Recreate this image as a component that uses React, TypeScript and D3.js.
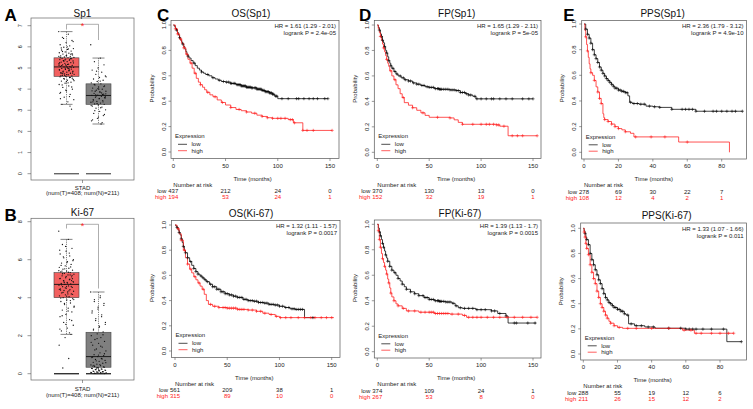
import React from "react";
import * as d3 from "d3";

type Step = [number, number];

// ---------- Box plot data (GEPIA, STAD) ----------
const boxGenes = ["Sp1", "Ki-67"];
const boxCategory = "STAD";
const boxCaption = "(num(T)=408; num(N)=211)";
const sp1YTicks = [0, 1, 2, 3, 4, 5, 6, 7];
const ki67YTicks = [0, 2, 4, 6, 8];
// [lowWhisker, q1, median, q3, highWhisker]
const sp1TumorStats = [3.28, 4.6, 5.05, 5.48, 6.72];
const sp1NormalStats = [2.35, 3.28, 3.7, 4.25, 5.47];
const ki67TumorStats = [2.07, 4.0, 4.7, 5.32, 7.07];
const ki67NormalStats = [0.0, 0.34, 0.9, 2.18, 4.3];
const sp1Tumor = [6.72,6.6,6.45,6.3,6.2,6.1,6.05,5.98,5.92,5.88,5.85,5.8,5.76,5.72,5.7,5.66,5.62,5.6,5.57,5.55,5.52,5.5,5.48,5.46,5.44,5.42,5.4,5.37,5.35,5.33,5.3,5.28,5.25,5.22,5.2,5.18,5.15,5.12,5.1,5.08,5.06,5.05,5.03,5.0,4.98,4.95,4.93,4.9,4.88,4.85,4.82,4.8,4.78,4.75,4.72,4.7,4.68,4.65,4.62,4.6,4.58,4.55,4.5,4.46,4.42,4.38,4.33,4.28,4.22,4.15,4.08,4.0,3.92,3.85,3.75,3.62,3.5,3.4,3.28,3.05,5.15,5.25,4.95,5.35,4.85,5.05,4.75,5.45,4.65,5.55,
  5.9,5.78,5.68,5.58,5.49,5.41,5.32,5.24,5.17,5.11,5.04,4.99,4.92,4.87,4.81,4.76,4.69,4.63,4.56,4.48,4.4,4.3,4.2,4.1,3.95,3.8,3.65,6.4,6.25,6.0,5.95,5.65,5.38,5.13,4.97,4.73,4.52,4.35,3.55,3.2];
const sp1Normal = [6.1,5.47,5.3,5.15,5.0,4.9,4.8,4.7,4.62,4.55,4.48,4.42,4.36,4.3,4.25,4.2,4.15,4.1,4.05,4.0,3.95,3.9,3.85,3.8,3.76,3.72,3.7,3.66,3.62,3.58,3.54,3.5,3.46,3.42,3.38,3.34,3.3,3.28,3.25,3.2,3.15,3.1,3.02,2.95,2.85,2.75,2.62,2.5,2.35,3.9,3.6,4.0,3.4,3.75,
  4.85,4.58,4.38,4.22,4.12,4.02,3.92,3.82,3.73,3.64,3.56,3.48,3.4,3.32,3.22,3.12,2.98,2.8,2.68,2.55,2.42,3.68,3.78,3.88];
const ki67Tumor = [7.5,7.07,6.8,6.6,6.45,6.3,6.2,6.1,6.0,5.9,5.82,5.75,5.68,5.6,5.55,5.5,5.45,5.4,5.36,5.32,5.28,5.24,5.2,5.15,5.1,5.05,5.0,4.95,4.9,4.85,4.8,4.75,4.72,4.7,4.66,4.62,4.58,4.54,4.5,4.46,4.42,4.38,4.34,4.3,4.25,4.2,4.15,4.1,4.05,4.0,3.95,3.88,3.8,3.72,3.64,3.55,3.45,3.35,3.25,3.12,3.0,2.85,2.7,2.55,2.4,2.25,2.07,1.9,1.5,0.8,0.3,5.0,4.6,4.4,5.2,4.8,3.9,4.2,5.4,4.9,
  6.7,6.5,6.35,6.15,5.95,5.85,5.7,5.62,5.52,5.42,5.34,5.26,5.18,5.12,5.02,4.97,4.88,4.82,4.77,4.68,4.6,4.52,4.44,4.36,4.28,4.18,4.08,3.98,3.85,3.7,3.5,3.3,3.05,2.8,2.6,2.35,2.15];
const ki67Normal = [4.3,4.1,3.9,3.7,3.5,3.3,3.1,2.9,2.7,2.5,2.35,2.2,2.1,2.0,1.9,1.8,1.7,1.6,1.5,1.4,1.3,1.2,1.1,1.0,0.95,0.9,0.85,0.8,0.75,0.7,0.65,0.6,0.55,0.5,0.46,0.42,0.38,0.34,0.3,0.27,0.24,0.21,0.18,0.15,0.12,0.1,0.08,0.06,0.04,0.02,0.01,0.2,0.4,0.1,0.3,0.05,
  4.0,3.8,3.6,3.4,3.2,3.0,2.8,2.6,2.45,2.3,2.05,1.85,1.65,1.45,1.25,1.05,0.98,0.88,0.78,0.68,0.58,0.48,0.44,0.36,0.32,0.28,0.25,0.22,0.19,0.16,0.14,0.11,0.09,0.07,0.05,0.03];

// ---------- Kaplan-Meier data ----------
const osSp1Low: Step[] = [[0,1],[1,0.99],[2,0.975],[3,0.96],[4,0.94],[5,0.92],[6,0.9],[7,0.88],[8,0.865],[9,0.85],[10,0.83],[11,0.81],[12,0.79],[13,0.77],[14,0.755],[15,0.74],[17,0.72],[19,0.7],[21,0.68],[23,0.66],[25,0.645],[27,0.63],[29,0.62],[31,0.61],[34,0.6],[37,0.585],[40,0.575],[43,0.565],[46,0.555],[50,0.55],[55,0.54],[60,0.53],[65,0.52],[70,0.51],[75,0.505],[80,0.495],[85,0.485],[88,0.475],[92,0.465],[95,0.455],[97,0.44],[100,0.42],[148,0.42]];
const osSp1High: Step[] = [[0,1],[2,0.97],[4,0.93],[6,0.89],[8,0.855],[10,0.82],[12,0.77],[14,0.73],[16,0.7],[18,0.66],[20,0.62],[22,0.58],[24,0.55],[26,0.53],[28,0.51],[30,0.49],[32,0.47],[35,0.45],[38,0.435],[42,0.41],[46,0.39],[50,0.37],[55,0.35],[60,0.335],[65,0.325],[70,0.315],[75,0.305],[80,0.29],[85,0.28],[90,0.27],[95,0.265],[110,0.255],[115,0.23],[124,0.17],[152,0.17]];
const osKi67Low: Step[] = [[0,1],[1,0.99],[2,0.98],[3,0.96],[4,0.94],[5,0.92],[6,0.89],[7,0.86],[8,0.83],[9,0.8],[10,0.78],[12,0.74],[14,0.71],[16,0.68],[18,0.655],[20,0.63],[22,0.61],[24,0.595],[26,0.58],[28,0.565],[30,0.55],[33,0.53],[36,0.51],[40,0.49],[44,0.47],[48,0.455],[52,0.445],[56,0.435],[60,0.425],[65,0.41],[70,0.4],[75,0.395],[80,0.385],[85,0.38],[90,0.37],[95,0.365],[100,0.355],[105,0.345],[110,0.335],[115,0.33],[124,0.265],[134,0.265]];
const osKi67High: Step[] = [[0,1],[2,0.97],[4,0.93],[6,0.88],[8,0.8],[10,0.74],[12,0.69],[14,0.65],[16,0.62],[18,0.59],[20,0.565],[22,0.54],[24,0.515],[26,0.49],[28,0.45],[30,0.4],[32,0.37],[36,0.355],[42,0.345],[50,0.34],[60,0.33],[70,0.325],[78,0.315],[84,0.3],[90,0.29],[96,0.275],[100,0.265],[152,0.265]];
const fpSp1Low: Step[] = [[0,1],[1,0.98],[2,0.96],[3,0.93],[4,0.91],[5,0.88],[6,0.86],[7,0.83],[8,0.8],[9,0.78],[10,0.75],[11,0.72],[12,0.7],[13,0.68],[14,0.66],[16,0.635],[18,0.615],[20,0.6],[23,0.585],[26,0.57],[30,0.56],[34,0.545],[38,0.535],[42,0.525],[46,0.515],[50,0.51],[55,0.5],[60,0.495],[70,0.49],[76,0.485],[80,0.47],[85,0.46],[88,0.45],[92,0.44],[95,0.42],[150,0.42]];
const fpSp1High: Step[] = [[0,1],[1,0.97],[2,0.94],[3,0.91],[4,0.88],[5,0.85],[6,0.82],[7,0.79],[8,0.76],[9,0.73],[10,0.7],[11,0.675],[12,0.64],[14,0.6],[16,0.57],[18,0.53],[20,0.5],[22,0.46],[24,0.43],[26,0.39],[30,0.37],[34,0.35],[38,0.33],[42,0.31],[46,0.29],[50,0.275],[70,0.27],[74,0.255],[78,0.235],[82,0.22],[115,0.215],[118,0.205],[126,0.13],[154,0.13]];
const fpKi67Low: Step[] = [[0,1],[1,0.97],[2,0.94],[3,0.91],[4,0.88],[5,0.85],[6,0.82],[7,0.79],[8,0.76],[9,0.735],[10,0.71],[12,0.67],[14,0.64],[16,0.62],[18,0.6],[20,0.575],[22,0.555],[24,0.53],[26,0.51],[28,0.49],[32,0.47],[36,0.455],[40,0.44],[45,0.425],[50,0.41],[55,0.4],[60,0.395],[66,0.39],[72,0.38],[75,0.36],[78,0.345],[82,0.34],[95,0.33],[110,0.32],[116,0.3],[124,0.28],[126,0.225],[153,0.225]];
const fpKi67High: Step[] = [[0,1],[1,0.95],[2,0.88],[3,0.82],[4,0.77],[5,0.73],[6,0.7],[7,0.67],[8,0.64],[9,0.61],[10,0.57],[11,0.54],[12,0.5],[13,0.46],[14,0.43],[16,0.4],[18,0.375],[20,0.36],[24,0.34],[28,0.32],[40,0.31],[55,0.3],[70,0.295],[82,0.285],[86,0.27],[154,0.27]];
const ppsSp1Low: Step[] = [[0,1],[1,0.96],[2,0.92],[3,0.89],[4,0.85],[5,0.8],[6,0.76],[7,0.73],[8,0.7],[9,0.665],[10,0.64],[11,0.615],[12,0.595],[13,0.575],[14,0.56],[15,0.545],[16,0.53],[17,0.515],[18,0.5],[20,0.485],[22,0.475],[24,0.465],[25.5,0.44],[26.5,0.39],[28,0.38],[32,0.375],[36,0.36],[40,0.355],[44,0.35],[51,0.335],[65,0.32],[92,0.32]];
const ppsSp1High: Step[] = [[0,1],[0.5,0.95],[1,0.9],[1.5,0.84],[2,0.79],[2.5,0.74],[3,0.69],[3.5,0.65],[4,0.62],[5,0.6],[6,0.56],[7,0.51],[8,0.47],[9,0.42],[10,0.38],[11,0.3],[11.5,0.27],[12,0.255],[14,0.24],[16,0.22],[18,0.2],[20,0.185],[22,0.175],[24,0.16],[27,0.148],[29,0.12],[55,0.08],[84.5,0]];
const ppsKi67Low: Step[] = [[0,1],[0.5,0.98],[1,0.96],[1.5,0.93],[2,0.91],[3,0.87],[4,0.8],[5,0.75],[6,0.71],[7,0.67],[8,0.63],[9,0.59],[10,0.56],[11,0.52],[12,0.48],[13,0.45],[14,0.43],[15,0.41],[16,0.4],[17,0.385],[18,0.37],[20,0.355],[22,0.34],[24,0.32],[25,0.31],[26.5,0.24],[30,0.225],[36,0.215],[42,0.205],[60,0.198],[84,0.098],[92.5,0.098]];
const ppsKi67High: Step[] = [[0,1],[0.5,0.97],[1,0.93],[1.5,0.88],[2,0.84],[3,0.79],[4,0.71],[5,0.65],[6,0.6],[7,0.56],[8,0.5],[9,0.45],[10,0.4],[11,0.37],[12,0.34],[13,0.31],[14,0.285],[15,0.26],[16,0.245],[18,0.225],[20,0.212],[23,0.204],[58,0.19],[65,0.165],[88,0.165]];

const osSp1LowCens = [3,6,9,14,20,27,33,38,44,48,51,53,55,56,58,59,61,62,63,64,65,66,67,68,69,70,71,72,73,74,75,76,78,79,80,81,82,83,84,85,86,87,88,89,90,91,92,93,94,95,96,98,99,104,110,118,120,125,130,134,138,145,148];
const osSp1HighCens = [2,4,7,10,13,17,21,26,33,40,47,55,63,70,78,85,90,95,100,103,107,112,114,116,124,128,134,152];
const osKi67LowCens = [2,4,6,8,10,12,15,18,20,22,25,27,29,31,34,36,38,40,42,44,46,48,50,52,54,56,58,60,62,64,66,68,70,72,74,76,78,80,82,84,86,88,90,92,94,96,98,100,103,106,109,112,114,116,118,120,122,132];
const osKi67HighCens = [3,6,9,12,15,19,23,27,34,38,42,46,48,50,52,54,56,58,60,62,64,66,70,74,78,82,86,92,97,101,106,111,118,124,130,134,140,145,150];
const fpSp1LowCens = [2,4,5,7,9,11,13,15,17,19,22,25,27,30,32,35,38,40,43,45,48,50,52,54,56,58,59,60,61,62,64,66,68,70,72,74,76,78,80,82,84,86,88,90,94,96,100,105,110,112,118,124,130,140,146,150];
const fpSp1HighCens = [3,6,9,13,17,25,34,44,58,70,82,92,100,105,108,112,115,117,122,130,135,140,154];
const fpKi67LowCens = [2,3,5,6,8,10,12,14,17,20,24,28,32,36,40,44,46,48,50,52,54,56,58,59,60,61,62,64,66,68,70,73,76,80,84,88,92,96,100,104,110,113,118,124,132,134,145,152];
const fpKi67HighCens = [1,2,3,5,7,9,11,13,16,20,25,30,36,42,46,50,52,54,56,58,60,62,64,66,68,72,78,84,88,92,96,100,106,112,118,125,132,140,148,154];
const ppsSp1LowCens = [1,2,3,4,5,6,7,8,9,10,11,12,13,14,15,16,17,18,19,20,21,22,23,24,25,27,29,31,33,35,38,41,44,51,57,59,61,63,65,70,75,77,80,83,86,88,92];
const ppsSp1HighCens = [1,2,4,6,8,9,10,12,14,16,18,20,24,30,39,47,60];
const ppsKi67LowCens = [1,2,3,4,5,6,7,8,9,10,11,12,13,14,15,16,17,18,19,20,21,22,23,24,26,28,31,34,38,41,50,57,60,62,64,66,70,75,82,92.5];
const ppsKi67HighCens = [0.5,1,1.5,2,3,4,5,6,7,8,9,10,11,12,13,14,16,18,21,26,31,40,50,59,63,66,69,75,80,85,88];

const ticksLong = [0, 50, 100, 150];
const ticksShort = [0, 20, 40, 60, 80];
const probTicks = [0, 0.2, 0.4, 0.6, 0.8, 1.0];

const FONT = "'Liberation Sans', Arial, Helvetica, sans-serif";
const RED = "#ff1a1a";

function survAt(steps: Step[], t: number) {
  let s = 1;
  for (const [tt, ss] of steps) {
    if (tt <= t) s = ss;
    else break;
  }
  return s;
}

function KMPanel({ c }: { c: any }) {
  const x = d3.scaleLinear().domain([0, c.xMax]).range([c.x0, c.x1]);
  const y = d3.scaleLinear().domain([0, 1]).range([c.y0, c.y1]);
  const line = d3.line<Step>().x((d) => x(d[0])).y((d) => y(d[1])).curve(d3.curveStepAfter);
  const b = c.box;
  const fs = 6;
  const cens = (steps: Step[], times: number[], color: string, key: string) =>
    times.map((t, i) => {
      const px = x(t), py = y(survAt(steps, t));
      return (
        <g key={key + i} stroke={color} strokeWidth={0.55}>
          <line x1={px - 1.6} x2={px + 1.6} y1={py} y2={py} />
          <line x1={px} x2={px} y1={py - 1.6} y2={py + 1.6} />
        </g>
      );
    });
  return (
    <g fontFamily={FONT}>
      {c.letter && (
        <text x={c.letterX} y={c.letterY} fontSize={17} fontWeight="bold" fill="#000">{c.letter}</text>
      )}
      <text x={c.titleX} y={c.titleY} fontSize={10} textAnchor="middle" fill="#111">{c.title}</text>
      <rect x={b.l} y={b.t} width={b.r - b.l} height={b.b - b.t} fill="none" stroke="#555" strokeWidth={0.7} />
      {probTicks.map((t) => (
        <g key={"yt" + t}>
          <line x1={b.l - 2.5} x2={b.l} y1={y(t)} y2={y(t)} stroke="#555" strokeWidth={0.6} />
          <text transform={`translate(${b.l - 7.5},${y(t)}) rotate(-90)`} textAnchor="middle" dy="0.35em" fontSize={fs} fill="#222">{t.toFixed(1)}</text>
        </g>
      ))}
      <text transform={`translate(${b.l - 19.5},${(c.y0 + c.y1) / 2}) rotate(-90)`} textAnchor="middle" dy="0.35em" fontSize={fs} fill="#222">Probability</text>
      {c.xTicks.map((t: number) => (
        <g key={"xt" + t}>
          <line x1={x(t)} x2={x(t)} y1={b.b} y2={b.b + 2.5} stroke="#555" strokeWidth={0.6} />
          <text x={x(t)} y={b.b + 9.3} textAnchor="middle" fontSize={fs} fill="#222">{t}</text>
        </g>
      ))}
      <text x={(c.x0 + c.x1) / 2 + 1} y={b.b + 22} textAnchor="middle" fontSize={fs} fill="#222">Time (months)</text>
      <path d={line(c.low) || ""} fill="none" stroke="#000" strokeWidth={0.75} />
      <path d={line(c.high) || ""} fill="none" stroke={RED} strokeWidth={0.75} />
      {cens(c.low, c.lowC, "#000", "lc")}
      {cens(c.high, c.highC, RED, "hc")}
      <text x={b.r - 3} y={b.t + 7.5} textAnchor="end" fontSize={fs} fill="#222">{c.hr}</text>
      <text x={b.r - 3} y={b.t + 14.5} textAnchor="end" fontSize={fs} fill="#222">{c.p}</text>
      <text x={b.l + 4} y={b.b - 20.5} fontSize={fs} fill="#222">Expression</text>
      <line x1={b.l + 7} x2={b.l + 16} y1={b.b - 14.2} y2={b.b - 14.2} stroke="#000" strokeWidth={0.7} />
      <text x={b.l + 20.5} y={b.b - 12.2} fontSize={fs} fill="#222">low</text>
      <line x1={b.l + 7} x2={b.l + 16} y1={b.b - 7.8} y2={b.b - 7.8} stroke={RED} strokeWidth={0.7} />
      <text x={b.l + 20.5} y={b.b - 5.8} fontSize={fs} fill="#222">high</text>
      <text x={c.x0} y={b.b + 28.3} fontSize={fs} fill="#222">Number at risk</text>
      <text x={c.x0 - 7} y={b.b + 34.7} textAnchor="end" fontSize={fs} fill="#222">low</text>
      <text x={c.x0 - 7} y={b.b + 40.9} textAnchor="end" fontSize={fs} fill={RED}>high</text>
      {c.riskLow.map((n: number, i: number) => (
        <text key={"rl" + i} x={x(c.xTicks[i])} y={b.b + 34.7} textAnchor="middle" fontSize={fs} fill="#222">{n}</text>
      ))}
      {c.riskHigh.map((n: number, i: number) => (
        <text key={"rh" + i} x={x(c.xTicks[i])} y={b.b + 40.9} textAnchor="middle" fontSize={fs} fill={RED}>{n}</text>
      ))}
    </g>
  );
}

function BoxPanel({ c }: { c: any }) {
  const y = d3.scaleLinear().domain([0, c.yMax]).range([c.y0, c.y1]);
  const f = c.frame;
  const groups = [
    { cx: 66.5, vals: c.tumor, st: c.tumorStats, fill: "#f2605f" },
    { cx: 98.5, vals: c.normal, st: c.normalStats, fill: "#7f7f7f" },
  ];
  const bw = 25;
  return (
    <g fontFamily={FONT}>
      <text x={c.letterX} y={c.letterY} fontSize={17} fontWeight="bold" fill="#000">{c.letter}</text>
      <text x={82.5} y={c.titleY} fontSize={10} textAnchor="middle" fill="#111">{c.title}</text>
      <rect x={f.l} y={f.t} width={f.r - f.l} height={f.b - f.t} fill="none" stroke="#666" strokeWidth={0.7} />
      {c.ticks.map((t: number) => (
        <g key={"t" + t}>
          <line x1={f.l - 3.5} x2={f.l} y1={y(t)} y2={y(t)} stroke="#555" strokeWidth={0.6} />
          <text transform={`translate(${20.5},${y(t)}) rotate(-90)`} textAnchor="middle" dy="0.35em" fontSize={5.5} fill="#222">{t}</text>
        </g>
      ))}
      <line x1={82.5} x2={82.5} y1={f.b} y2={f.b + 3} stroke="#555" strokeWidth={0.6} />
      <text x={82.5} y={c.capY} textAnchor="middle" fontSize={6} fill="#222">{boxCategory}</text>
      <text x={82.5} y={c.capY + 5.6} textAnchor="middle" fontSize={6} fill="#222">{boxCaption}</text>
      {groups.map((g, gi) => (
        <line key={"z" + gi} x1={g.cx - bw / 2} x2={g.cx + bw / 2} y1={y(0)} y2={y(0)} stroke={c.zeroColor} strokeWidth={1.4} />
      ))}
      {groups.map((g, gi) => {
        const [lo, q1, med, q3, hi] = g.st;
        return (
          <g key={"b" + gi}>
            <line x1={g.cx} x2={g.cx} y1={y(hi)} y2={y(q3)} stroke="#333" strokeWidth={0.6} strokeDasharray="1.2,1" />
            <line x1={g.cx} x2={g.cx} y1={y(q1)} y2={y(lo)} stroke="#333" strokeWidth={0.6} strokeDasharray="1.2,1" />
            <line x1={g.cx - 6} x2={g.cx + 6} y1={y(hi)} y2={y(hi)} stroke="#333" strokeWidth={0.6} />
            <line x1={g.cx - 6} x2={g.cx + 6} y1={y(lo)} y2={y(lo)} stroke="#333" strokeWidth={0.6} />
            <rect x={g.cx - bw / 2} y={y(q3)} width={bw} height={y(q1) - y(q3)} fill={g.fill} stroke="#444" strokeWidth={0.6} />
            <line x1={g.cx - bw / 2} x2={g.cx + bw / 2} y1={y(med)} y2={y(med)} stroke="#111" strokeWidth={0.9} />
          </g>
        );
      })}
      {groups.map((g, gi) =>
        g.vals.map((v: number, i: number) => {
          const off = (((i * 0.6180339887) % 1) - 0.5) * bw * 0.62;
          return <circle key={"p" + gi + "-" + i} cx={g.cx + off} cy={y(v)} r={0.65} fill="#111" />;
        })
      )}
      <path d={`M66.5,${c.brLeft} V${c.brTop} H98.5 V${c.brRight}`} fill="none" stroke="#777" strokeWidth={0.6} />
      <text x={82.5} y={c.brTop + 4.8} textAnchor="middle" fontSize={9} fill={RED}>*</text>
    </g>
  );
}

const kmPanels = [
  { letter: "C", letterX: 157, letterY: 20.5, title: "OS(Sp1)", titleX: 251, titleY: 17, box: { l: 171, r: 339, t: 20.5, b: 158.5 }, x0: 173.3, x1: 330, xMax: 150, xTicks: ticksLong, y1: 25, y0: 152, hr: "HR = 1.61 (1.29 - 2.01)", p: "logrank P = 2.4e-05", low: osSp1Low, high: osSp1High, lowC: osSp1LowCens, highC: osSp1HighCens, riskLow: [437, 212, 24, 0], riskHigh: [194, 53, 24, 1] },
  { letter: "", title: "OS(Ki-67)", titleX: 251, titleY: 216.7, box: { l: 171.5, r: 340, t: 220.5, b: 357.5 }, x0: 175, x1: 331.7, xMax: 150, xTicks: ticksLong, y1: 225, y0: 351, hr: "HR = 1.32 (1.11 - 1.57)", p: "logrank P = 0.0017", low: osKi67Low, high: osKi67High, lowC: osKi67LowCens, highC: osKi67HighCens, riskLow: [561, 209, 38, 1], riskHigh: [315, 89, 10, 0] },
  { letter: "D", letterX: 359, letterY: 20.5, title: "FP(Sp1)", titleX: 456.7, titleY: 17, box: { l: 374.3, r: 541, t: 20.5, b: 158.5 }, x0: 377.3, x1: 533, xMax: 150, xTicks: ticksLong, y1: 25, y0: 152.3, hr: "HR = 1.65 (1.29 - 2.11)", p: "logrank P = 5e-05", low: fpSp1Low, high: fpSp1High, lowC: fpSp1LowCens, highC: fpSp1HighCens, riskLow: [370, 130, 13, 0], riskHigh: [152, 32, 19, 1] },
  { letter: "", title: "FP(Ki-67)", titleX: 460, titleY: 217, box: { l: 374.3, r: 541, t: 220, b: 358 }, x0: 377.3, x1: 533, xMax: 150, xTicks: ticksLong, y1: 224.3, y0: 351.7, hr: "HR = 1.39 (1.13 - 1.7)", p: "logrank P = 0.0015", low: fpKi67Low, high: fpKi67High, lowC: fpKi67LowCens, highC: fpKi67HighCens, riskLow: [374, 109, 24, 1], riskHigh: [267, 53, 8, 0] },
  { letter: "E", letterX: 563.3, letterY: 20.5, title: "PPS(Sp1)", titleX: 662.7, titleY: 17, box: { l: 581.7, r: 746.5, t: 20.5, b: 159 }, x0: 584, x1: 721.7, xMax: 80, xTicks: ticksShort, y1: 24, y0: 152.3, hr: "HR = 2.36 (1.79 - 3.12)", p: "logrank P = 4.9e-10", low: ppsSp1Low, high: ppsSp1High, lowC: ppsSp1LowCens, highC: ppsSp1HighCens, riskLow: [278, 69, 30, 22, 7], riskHigh: [108, 12, 4, 2, 1] },
  { letter: "", title: "PPS(Ki-67)", titleX: 666.7, titleY: 219.3, box: { l: 580.7, r: 746.5, t: 223, b: 360 }, x0: 583.3, x1: 720, xMax: 80, xTicks: ticksShort, y1: 228.3, y0: 354, hr: "HR = 1.33 (1.07 - 1.66)", p: "logrank P = 0.011", low: ppsKi67Low, high: ppsKi67High, lowC: ppsKi67LowCens, highC: ppsKi67HighCens, riskLow: [288, 55, 19, 12, 6], riskHigh: [211, 26, 15, 12, 2] },
];

const boxPanels = [
  { letter: "A", letterX: 4.5, letterY: 20.7, title: boxGenes[0], titleY: 16.5, frame: { l: 31, r: 134, t: 18, b: 180 }, y0: 173.7, y1: 25.7, yMax: 7, ticks: sp1YTicks, tumor: sp1Tumor, normal: sp1Normal, tumorStats: sp1TumorStats, normalStats: sp1NormalStats, capY: 189.5, zeroColor: "#666", brTop: 24.3, brLeft: 29.5, brRight: 40 },
  { letter: "B", letterX: 4.5, letterY: 220.7, title: boxGenes[1], titleY: 216, frame: { l: 31, r: 134, t: 218.3, b: 380 }, y0: 373.7, y1: 221.7, yMax: 8, ticks: ki67YTicks, tumor: ki67Tumor, normal: ki67Normal, tumorStats: ki67TumorStats, normalStats: ki67NormalStats, capY: 391, zeroColor: "#333", brTop: 224.3, brLeft: 228.5, brRight: 288.5 },
];

export default function App() {
  return (
    <svg width={753} height={409} style={{ position: "absolute", left: 0, top: 0, background: "#fff" }}>
      <rect x={0} y={0} width={753} height={409} fill="#fff" />
      {boxPanels.map((c, i) => <BoxPanel key={"bp" + i} c={c} />)}
      {kmPanels.map((c, i) => <KMPanel key={"km" + i} c={c} />)}
    </svg>
  );
}
